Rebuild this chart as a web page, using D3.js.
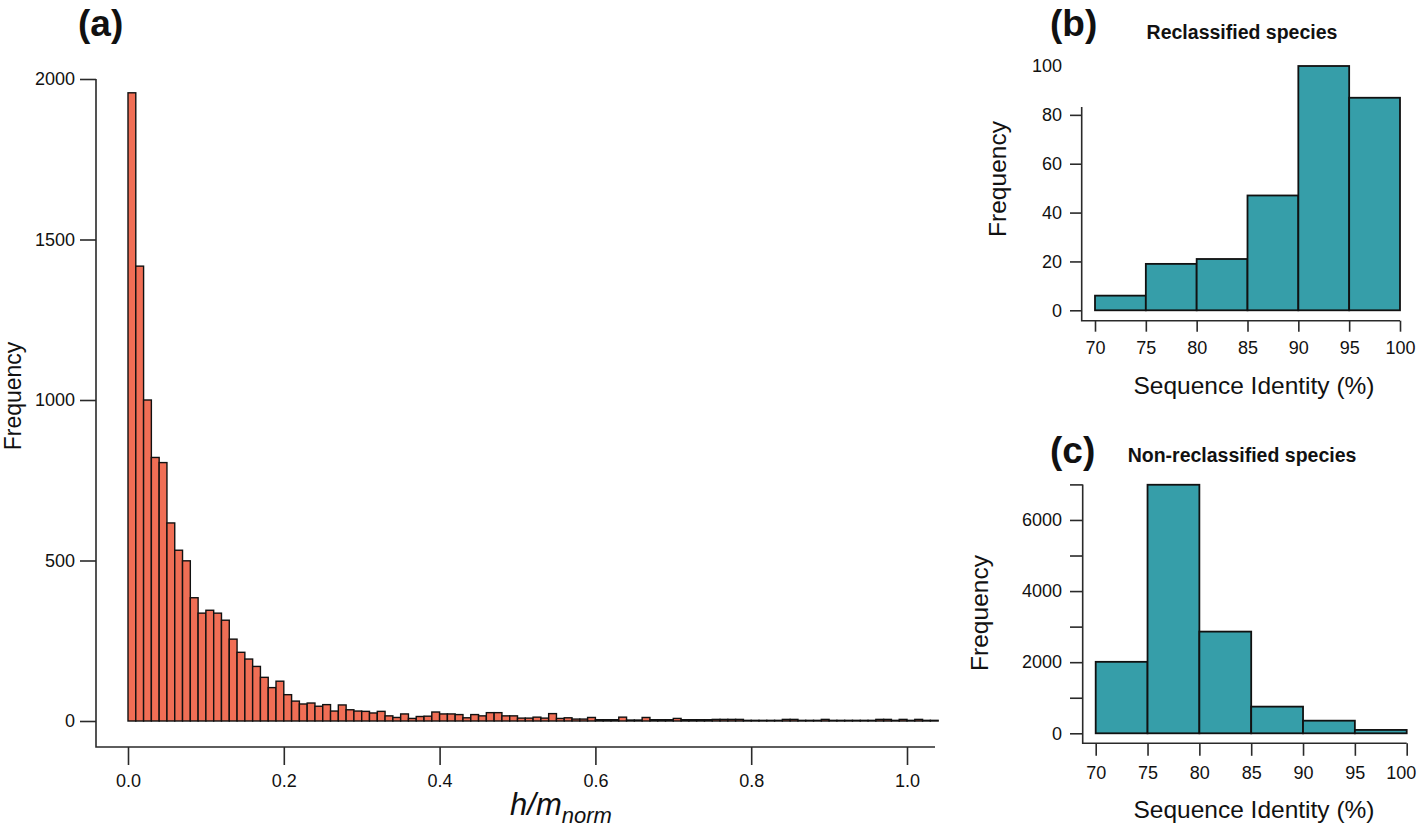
<!DOCTYPE html>
<html>
<head>
<meta charset="utf-8">
<script src="https://cdn.jsdelivr.net/npm/d3@7"></script>
<style>
  html, body { margin: 0; padding: 0; background: #fff; }
  svg { display: block; }
  text { font-family: "Liberation Sans", Arial, Helvetica, sans-serif; fill: #111; }
</style>
</head>
<body>
<svg id="chart" width="1417" height="827"></svg>
<script>
// ---------------- DATA ----------------
// Panel (a): histogram of h/m_norm, bins of width 0.01 starting at 0
const hmBinStart = 0;
const hmBinWidth = 0.01;
const hmCounts = [
  1957,1417,1000,821,805,617,532,499,384,336,
  345,336,314,255,214,193,170,136,104,124,
  82,62,53,56,46,51,31,50,35,31,
  30,25,30,16,11,22,8,14,15,28,
  22,22,20,10,20,16,26,26,16,16,
  9,9,12,9,23,8,10,6,6,11,
  4,4,4,12,3,3,11,4,4,4,
  8,4,4,4,4,5,5,5,5,2,
  2,2,2,2,5,5,2,2,2,5,
  2,2,2,2,2,2,5,5,2,5,
  2,5,2,2
];
const hmXTicks = [0, 0.2, 0.4, 0.6, 0.8, 1.0];
const hmYTicks = [0, 500, 1000, 1500, 2000];

// Panels (b) and (c): sequence identity histograms, 5% bins
const identityBinStarts = [70, 75, 80, 85, 90, 95];
const identityBinWidth = 5;
const reclassifiedCounts = [6, 19, 21, 47, 100, 87];
const nonReclassifiedCounts = [2010, 6990, 2860, 750, 355, 95];
const identityXTicks = [70, 75, 80, 85, 90, 95, 100];
const reclassYTicks = [0, 20, 40, 60, 80, 100];
const nonReclassYTicks = [0, 1000, 2000, 3000, 4000, 5000, 6000, 7000];

// ---------------- STYLE ----------------
const coral = "#F06E55";
const teal = "#369EA9";
const axisColor = "#2a2a2a";

const svg = d3.select("#chart");

function styleAxis(g, fontSize) {
  g.select(".domain").remove();
  g.selectAll(".tick line").attr("stroke", axisColor).attr("stroke-width", 1.6);
  g.selectAll(".tick text").attr("font-size", fontSize).attr("fill", "#111")
    .attr("font-family", '"Liberation Sans", Arial, sans-serif');
}

function lAxis(x0, yTop, y0, xRight) {
  svg.append("path")
    .attr("d", `M${x0},${yTop}V${y0}H${xRight}`)
    .attr("fill", "none").attr("stroke", axisColor).attr("stroke-width", 1.6);
}

// ---------------- PANEL (a) ----------------
{
  const x = d3.scaleLinear().domain([0, 1]).range([128, 907]);
  const y = d3.scaleLinear().domain([0, 2000]).range([721, 79]);
  const axisX = 96, axisY = 747, axisRight = 935;

  const bins = hmCounts.map((c, i) => ({ x0: hmBinStart + i * hmBinWidth, x1: hmBinStart + (i + 1) * hmBinWidth, c }));
  svg.append("g").selectAll("rect").data(bins).join("rect")
    .attr("x", d => x(d.x0))
    .attr("width", d => x(d.x1) - x(d.x0))
    .attr("y", d => y(d.c))
    .attr("height", d => y(0) - y(d.c))
    .attr("fill", coral).attr("stroke", "#111").attr("stroke-width", 1.4);

  lAxis(axisX, y(2000), axisY, axisRight);

  const gy = svg.append("g").attr("transform", `translate(${axisX},0)`)
    .call(d3.axisLeft(y).tickValues(hmYTicks).tickSize(16).tickPadding(5).tickFormat(d3.format("d")));
  styleAxis(gy, 18);

  const gx = svg.append("g").attr("transform", `translate(0,${axisY})`)
    .call(d3.axisBottom(x).tickValues(hmXTicks).tickSize(18).tickPadding(9).tickFormat(d3.format(".1f")));
  styleAxis(gx, 18);

  svg.append("text").attr("x", 78).attr("y", 36)
    .attr("font-size", 37).attr("font-weight", "bold").text("(a)");

  svg.append("text").attr("transform", "translate(21,396) rotate(-90)")
    .attr("text-anchor", "middle").attr("font-size", 23).text("Frequency");

  const xl = svg.append("text").attr("x", 561).attr("y", 815)
    .attr("text-anchor", "middle").attr("font-style", "italic");
  xl.append("tspan").attr("font-size", 31).text("h/m");
  xl.append("tspan").attr("font-size", 22).attr("dy", 8).text("norm");
}

// ---------------- PANELS (b), (c) ----------------
function identityPanel(opts) {
  const x = d3.scaleLinear().domain([70, 100]).range(opts.xRange);
  const y = d3.scaleLinear().domain(opts.yDomain).range(opts.yRange);

  const bins = opts.counts.map((c, i) => ({ x0: identityBinStarts[i], x1: identityBinStarts[i] + identityBinWidth, c }));
  svg.append("g").selectAll("rect").data(bins).join("rect")
    .attr("x", d => x(d.x0))
    .attr("width", d => x(d.x1) - x(d.x0))
    .attr("y", d => y(d.c))
    .attr("height", d => y(0) - y(d.c))
    .attr("fill", teal).attr("stroke", "#111").attr("stroke-width", 1.8);

  lAxis(opts.axisX, opts.axisTop, opts.axisY, x(100));

  const gy = svg.append("g").attr("transform", `translate(${opts.axisX},0)`)
    .call(d3.axisLeft(y).tickValues(opts.yTicks).tickSize(opts.yTickSize).tickPadding(8)
      .tickFormat(opts.yFormat));
  styleAxis(gy, 18);
  if (opts.noTickAbove !== undefined) {
    gy.selectAll(".tick").filter(d => d > opts.noTickAbove).select("line").remove();
  }

  const gx = svg.append("g").attr("transform", `translate(0,${opts.axisY})`)
    .call(d3.axisBottom(x).tickValues(identityXTicks).tickSize(opts.xTickSize).tickPadding(10).tickFormat(d3.format("d")));
  styleAxis(gx, 18);
  // keep the last label inside the page edge
  gx.selectAll(".tick").filter(d => d === 100).select("text").attr("dx", opts.lastLabelDx);

  svg.append("text").attr("x", 1050).attr("y", opts.letterY)
    .attr("font-size", 37).attr("font-weight", "bold").text(opts.letter);
  svg.append("text").attr("x", 1242).attr("y", opts.titleY)
    .attr("text-anchor", "middle").attr("font-size", 19.5).attr("font-weight", "bold").text(opts.title);
  svg.append("text").attr("transform", `translate(${opts.yLabelX},${opts.yLabelY}) rotate(-90)`)
    .attr("text-anchor", "middle").attr("font-size", 24.5).text("Frequency");
  svg.append("text").attr("x", 1254).attr("y", opts.xLabelY)
    .attr("text-anchor", "middle").attr("font-size", 24.5).text("Sequence Identity (%)");
}

identityPanel({
  counts: reclassifiedCounts,
  xRange: [1095, 1400],
  yDomain: [0, 100], yRange: [310.3, 66],
  axisX: 1081.7, axisTop: 107, axisY: 320.7,
  yTicks: reclassYTicks, yFormat: d3.format("d"), noTickAbove: 80,
  yTickSize: 11.7, xTickSize: 11, lastLabelDx: 0,
  letter: "(b)", letterY: 36,
  title: "Reclassified species", titleY: 38.5,
  yLabelX: 1006, yLabelY: 179,
  xLabelY: 394
});

identityPanel({
  counts: nonReclassifiedCounts,
  xRange: [1095.7, 1406.7],
  yDomain: [0, 7000], yRange: [733.3, 484.4],
  axisX: 1082.7, axisTop: 484.4, axisY: 743.3,
  yTicks: nonReclassYTicks, yFormat: d => (d % 2000 === 0 ? d3.format("d")(d) : ""),
  yTickSize: 12.7, xTickSize: 12.5, lastLabelDx: -6,
  letter: "(c)", letterY: 463,
  title: "Non-reclassified species", titleY: 462,
  yLabelX: 988, yLabelY: 613,
  xLabelY: 818
});
</script>
</body>
</html>
